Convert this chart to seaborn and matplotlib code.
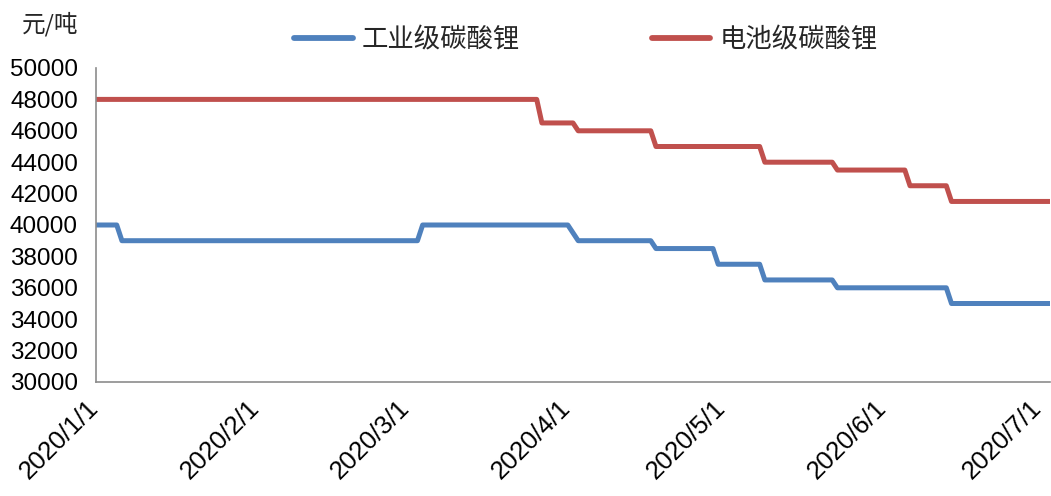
import pandas as pd
import matplotlib
matplotlib.use("Agg")
import matplotlib.pyplot as plt
import matplotlib.transforms as mtransforms
import seaborn as sns

# 工业级碳酸锂 breakpoints (date, 元/吨)
ind_dates = ["2020-01-01", "2020-01-05", "2020-01-06", "2020-03-03", "2020-03-04",
             "2020-04-01", "2020-04-03", "2020-04-17", "2020-04-18", "2020-04-29",
             "2020-04-30", "2020-05-08", "2020-05-09", "2020-05-22", "2020-05-23",
             "2020-06-13", "2020-06-14", "2020-07-03"]
ind_prices = [40000, 40000, 39000, 39000, 40000,
              40000, 39000, 39000, 38500, 38500,
              37500, 37500, 36500, 36500, 36000,
              36000, 35000, 35000]

# 电池级碳酸锂 breakpoints
bat_dates = ["2020-01-01", "2020-03-26", "2020-03-27", "2020-04-02", "2020-04-03",
             "2020-04-17", "2020-04-18", "2020-05-08", "2020-05-09", "2020-05-22",
             "2020-05-23", "2020-06-05", "2020-06-06", "2020-06-13", "2020-06-14",
             "2020-07-03"]
bat_prices = [48000, 48000, 46500, 46500, 46000,
              46000, 45000, 45000, 44000, 44000,
              43500, 43500, 42500, 42500, 41500,
              41500]

series_names = ["工业级碳酸锂", "电池级碳酸锂"]
colors = ["#4F81BD", "#C0504D"]
y_ticks = list(range(30000, 50001, 2000))
x_ticks = ["2020-01-01", "2020-02-01", "2020-03-01", "2020-04-01",
           "2020-05-01", "2020-06-01", "2020-07-01"]
x_ticklabels = ["2020/1/1", "2020/2/1", "2020/3/1", "2020/4/1",
                "2020/5/1", "2020/6/1", "2020/7/1"]

df = pd.concat([
    pd.DataFrame({"date": pd.to_datetime(ind_dates), "price": ind_prices, "series": series_names[0]}),
    pd.DataFrame({"date": pd.to_datetime(bat_dates), "price": bat_prices, "series": series_names[1]}),
])

sns.set_style("white")
plt.rcParams["font.family"] = ["Liberation Sans", "Noto Sans CJK SC", "DejaVu Sans"]

fig = plt.figure(figsize=(10.51, 4.96), dpi=100)
ax = fig.add_axes([96 / 1051, 1 - 382 / 496, (1050 - 96) / 1051, (382 - 68) / 496])

sns.lineplot(data=df, x="date", y="price", hue="series", hue_order=series_names,
             palette=colors, linewidth=3.6, ax=ax)

ax.set_ylim(30000, 50000)
ax.set_xlim(pd.Timestamp("2020-01-01"), pd.Timestamp("2020-07-03"))
ax.set_yticks(y_ticks)
ax.set_yticklabels([str(v) for v in y_ticks])
ax.set_xticks(pd.to_datetime(x_ticks))
ax.set_xticklabels(x_ticklabels, rotation=45, ha="right")
ax.set_xlabel("")
ax.set_ylabel("")

for s in ["top", "right"]:
    ax.spines[s].set_visible(False)
for s in ["left", "bottom"]:
    ax.spines[s].set_color("#8c8c8c")
    ax.spines[s].set_linewidth(1.2)

ax.tick_params(axis="both", direction="out", length=7, width=1.2, color="#8c8c8c",
               labelcolor="black", pad=6)
ax.tick_params(axis="y", labelsize=17.5)
ax.tick_params(axis="x", labelsize=18.5, pad=3)
shift = mtransforms.ScaledTranslation(7 / 100, 0, fig.dpi_scale_trans)
for lbl in ax.get_xticklabels():
    lbl.set_transform(lbl.get_transform() + shift)

handles, labels = ax.get_legend_handles_labels()
ax.legend_.remove()
leg = fig.legend(handles, labels, loc="center", bbox_to_anchor=(586 / 1051, 1 - 40 / 496),
                 ncol=2, frameon=False, handlelength=2.2, handletextpad=0.35,
                 columnspacing=5.0, prop={"family": ["Noto Sans CJK SC"], "size": 19})
for line in leg.get_lines():
    line.set_linewidth(4.2)

fig.text(22 / 1051, 1 - 24 / 496, "元/吨", fontsize=17, va="center", ha="left",
         family=["Noto Sans CJK SC", "DejaVu Sans"])

fig.savefig("out.png", dpi=100)
